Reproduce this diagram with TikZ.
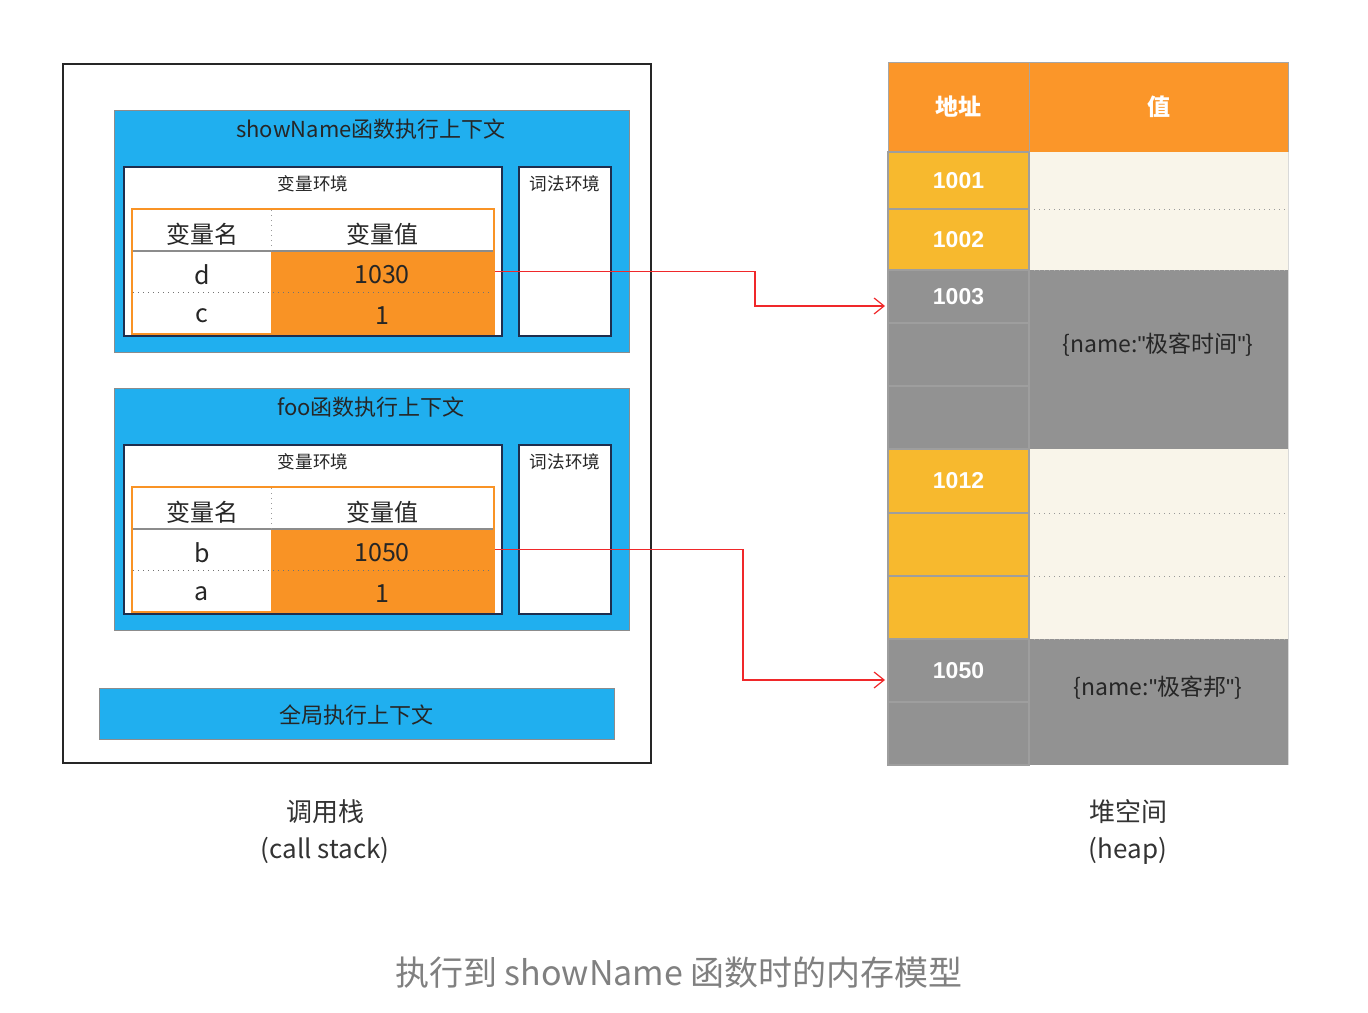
\documentclass[tikz,border=0pt]{standalone}
\usepackage{fontspec}
\setmainfont{Noto Sans CJK SC}
\newfontfamily\numfont{Liberation Sans}
\usetikzlibrary{fit,arrows.meta}
\definecolor{skyblue}{HTML}{20AFEF}
\definecolor{valorange}{HTML}{F99325}
\definecolor{hdrorange}{HTML}{FB9629}
\definecolor{addryellow}{HTML}{F7B92E}
\definecolor{cream}{HTML}{F9F5EA}
\definecolor{heapgray}{HTML}{929292}
\definecolor{navy}{HTML}{1E2E4E}
\definecolor{ptrred}{HTML}{F0282A}
\begin{document}
\begin{tikzpicture}[x=0.5pt,y=-0.5pt,
  box/.style={inner sep=0pt,outer sep=0pt},
  stackframe/.style={box,draw=black!85,line width=1.2pt},
  ctxbox/.style={box,fill=skyblue,draw=black!45,line width=0.5pt},
  envbox/.style={box,fill=white,draw=navy,line width=0.7pt},
  ctxtitle/.style={font=\fontsize{11}{12}\selectfont,text=black!85},
  envtitle/.style={font=\fontsize{8.8}{10}\selectfont,text=black!85},
  hdrtext/.style={font=\fontsize{12}{13}\selectfont,text=black!85,inner sep=0pt,yshift=-2pt},
  celltext/.style={font=\fontsize{12.5}{14}\selectfont,text=black!85,inner sep=0pt,yshift=-1.5pt},
  hdrcell/.style={box,fill=white,label={[hdrtext]center:#1}},
  namecell/.style={box,fill=white,label={[celltext]center:#1}},
  valcell/.style={box,fill=valorange,label={[celltext]center:#1}},
  tblframe/.style={box,draw=valorange,line width=1pt},
  heaptext/.style={text=white,font=\fontsize{11.5}{13}\selectfont\bfseries,inner sep=0pt},
  addrtext/.style={text=white,font=\numfont\fontsize{11.5}{13}\selectfont\bfseries,inner sep=0pt},
  heaphdr/.style={box,fill=hdrorange,draw=black!35,line width=0.5pt,label={[heaptext]center:#1}},
  addry/.style={box,fill=addryellow,draw=black!38,line width=0.6pt,label={[addrtext]center:#1}},
  addrg/.style={box,fill=heapgray,draw=black!38,line width=0.6pt,label={[addrtext]center:#1}},
  addry/.default={},
  addrg/.default={},
  valc/.style={box,fill=cream},
  valg/.style={box,fill=heapgray},
  objtext/.style={font=\fontsize{11.5}{13}\selectfont,text=black!85},
  caption/.style={font=\fontsize{13}{18.5}\selectfont,text=black!80,align=center},
  ptr/.style={draw=ptrred,line width=0.6pt,-{Straight Barb[length=5pt,width=8pt]}}
]
\useasboundingbox (0,0) rectangle (1368,1012);

% ---------------- call stack ----------------
\node[stackframe,fit={(63,64)(651,763)}] (stack) {};

% showName context
\node[ctxbox,fit={(114,110)(629,352)}] (ctxShow) {};
\node[ctxtitle] (ctxShowT) at (371,129) {showName函数执行上下文};
\node[envbox,fit={(124,167)(502,336)}] (venv1) {};
\node[envtitle] (venv1T) at (313,184) {变量环境};
\node[envbox,fit={(519,167)(611,336)}] (lenv1) {};
\node[envtitle] (lenv1T) at (565,184) {词法环境};
\node[hdrcell=变量名,fit={(133,210)(271,251)}] (h1n) {};
\node[hdrcell=变量值,fit={(271,210)(493,251)}] (h1v) {};
\node[namecell=d,fit={(133,251)(271,292)}] (nd) {};
\node[valcell=1030,fit={(271,251)(493,292)}] (v1030) {};
\node[namecell=c,fit={(133,292)(271,333)}] (nc) {};
\node[valcell=1,fit={(271,292)(493,333)}] (v1a) {};
\draw[black!45,line width=0.6pt] (h1n.south west) -- (h1v.south east);
\draw[black!40,dotted,line width=0.5pt] (h1n.north east) -- (h1n.south east);
\draw[black!55,dotted,line width=0.5pt] (nd.south west) -- (v1030.south east);
\node[tblframe,fit={(132,209)(494,334)}] (tbl1) {};

% foo context
\node[ctxbox,fit={(114,388)(629,630)}] (ctxFoo) {};
\node[ctxtitle] (ctxFooT) at (371,407) {foo函数执行上下文};
\node[envbox,fit={(124,445)(502,614)}] (venv2) {};
\node[envtitle] (venv2T) at (313,462) {变量环境};
\node[envbox,fit={(519,445)(611,614)}] (lenv2) {};
\node[envtitle] (lenv2T) at (565,462) {词法环境};
\node[hdrcell=变量名,fit={(133,488)(271,529)}] (h2n) {};
\node[hdrcell=变量值,fit={(271,488)(493,529)}] (h2v) {};
\node[namecell=b,fit={(133,529)(271,570)}] (nb) {};
\node[valcell=1050,fit={(271,529)(493,570)}] (v1050) {};
\node[namecell=a,fit={(133,570)(271,611)}] (na) {};
\node[valcell=1,fit={(271,570)(493,611)}] (v1b) {};
\draw[black!45,line width=0.6pt] (h2n.south west) -- (h2v.south east);
\draw[black!40,dotted,line width=0.5pt] (h2n.north east) -- (h2n.south east);
\draw[black!55,dotted,line width=0.5pt] (nb.south west) -- (v1050.south east);
\node[tblframe,fit={(132,487)(494,612)}] (tbl2) {};

% global context
\node[ctxbox,fit={(99,688)(614,739)}] (ctxGlobal) {};
\node[ctxtitle] (ctxGlobalT) at (356,715) {全局执行上下文};

\node[caption] (stackLabel) at (325,832) {调用栈\\(call stack)};

% ---------------- heap ----------------
\node[heaphdr=地址,fit={(888,62)(1029,152)}] (hAddr) {};
\node[heaphdr=值,fit={(1029,62)(1288,152)}] (hVal) {};

\node[valc,fit={(1029,152)(1288,209)}] (c1) {};
\node[valc,fit={(1029,209)(1288,270)}] (c2) {};
\node[valg,fit={(1029,270)(1288,449)}] (c3) {};
\node[valc,fit={(1029,449)(1288,513)}] (c4) {};
\node[valc,fit={(1029,513)(1288,576)}] (c5) {};
\node[valc,fit={(1029,576)(1288,639)}] (c6) {};
\node[valg,fit={(1029,639)(1288,765)}] (c7) {};
\foreach \a in {c1,c4,c5}
  \draw[black!40,dotted,line width=0.5pt] (\a.south west) -- (\a.south east);
\foreach \a in {c2,c6}
  \draw[black!30,dotted,line width=0.5pt] (\a.south west) -- (\a.south east);
\draw[black!15,line width=0.4pt] (c1.north east) -- (c7.south east);

\node[addry=1001,fit={(888,152)(1029,209)}] (a1001) {};
\node[addry=1002,fit={(888,209)(1029,270)}] (a1002) {};
\node[addrg=1003,fit={(888,270)(1029,323)}] (a1003) {};
\node[addrg,fit={(888,323)(1029,386)}] (ag2) {};
\node[addrg,fit={(888,386)(1029,449)}] (ag3) {};
\node[addry=1012,fit={(888,449)(1029,513)}] (a1012) {};
\node[addry,fit={(888,513)(1029,576)}] (ay2) {};
\node[addry,fit={(888,576)(1029,639)}] (ay3) {};
\node[addrg=1050,fit={(888,639)(1029,702)}] (a1050) {};
\node[addrg,fit={(888,702)(1029,765)}] (ag5) {};

\node[objtext] (obj1) at (1158,345) {\{name:{\numfont"}极客时间{\numfont"}\}};
\node[objtext] (obj2) at (1158,688) {\{name:{\numfont"}极客邦{\numfont"}\}};

\node[caption] (heapLabel) at (1128,832) {堆空间\\(heap)};

% ---------------- pointers ----------------
\coordinate (k1) at (755,290);
\coordinate (e1) at (885,306);
\coordinate (k2) at (743,620);
\coordinate (e2) at (885,680);
\draw[ptr] ([xshift=1pt]v1030.east) -| (k1) |- (e1);
\draw[ptr] ([xshift=1pt]v1050.east) -| (k2) |- (e2);

% ---------------- title ----------------
\node[font=\fontsize{17}{19}\selectfont,text=black!50] (title) at (679,973) {执行到 showName 函数时的内存模型};
\end{tikzpicture}
\end{document}
